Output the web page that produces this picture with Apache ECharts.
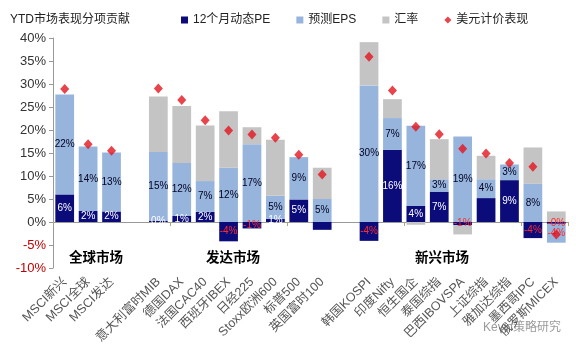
<!DOCTYPE html>
<html><head><meta charset="utf-8">
<script src="https://cdn.jsdelivr.net/npm/echarts@6/dist/echarts.min.js"></script>
<style>html,body{margin:0;padding:0;background:#fff}#c{width:576px;height:355px}</style>
</head><body><div id="c"></div>
<script>
const categories = ['MSCI新兴','MSCI全球','MSCI发达','','意大利富时MIB','德国DAX','法国CAC40','西班牙IBEX','日经225','Stoxx欧洲600','标普500','英国富时100','','韩国KOSPI','印度Nifty','恒生国企','泰国综指','巴西IBOVSPA','上证综指','雅加达综指','墨西哥IPC','俄罗斯MICEX'];
const pe  = [6.0, 2.4, 2.3, null, 0.3, 1.3, 2.2, -4.2, -1.4, 0.7, 4.9, -1.7, null, -4.1, 15.7, 3.5, 6.6, -0.7, 5.2, 9.1, -3.5, -0.4];
const eps = [21.7, 14.0, 12.8, null, 14.9, 11.5, 6.7, 11.8, 16.9, 5.0, 9.2, 5.0, null, 29.7, 6.9, 17.4, 2.7, 18.6, 4.1, 3.4, 8.3, -4.1];
const fx  = [0, 0, 0, null, 12.1, 12.4, 12.1, 12.3, 3.7, 12.2, 0, 6.8, null, 9.4, 4.1, -0.6, 8.7, -2.0, 5.1, 0, 7.9, 2.3];
const usd = [28.9, 16.9, 15.5, null, 29.0, 26.5, 22.1, 19.9, 19.0, 18.3, 14.6, 10.3, null, 35.9, 28.6, 20.7, 19.1, 15.9, 14.9, 12.8, 12.0, -2.7];
const yTicks = [-10, -5, 0, 5, 10, 15, 20, 25, 30, 35, 40];
const peLabelHidden = ['英国富时100', '上证综指'];
const groups = [
  {name: '全球市场', x: 96},
  {name: '发达市场', x: 233},
  {name: '新兴市场', x: 442}
];

const chart = echarts.init(document.getElementById('c'), null, {renderer: 'canvas'});
const fmt = v => (v == null ? '' : Number(v).toFixed(0) + '%');
const red = '#ff2a2a';

const peData = pe.map((v, i) => ({
  value: v,
  label: {
    show: v != null && peLabelHidden.indexOf(categories[i]) < 0,
    color: v < 0 ? red : '#ffffff'
  }
}));
const epsData = eps.map(v => ({
  value: v,
  label: {show: v != null, color: v < 0 ? red : '#000022'}
}));

chart.setOption({
  animation: false,
  title: {
    text: 'YTD市场表现分项贡献', left: 5, top: 9,
    textStyle: {fontSize: 12, fontWeight: 'normal', color: '#222', fontFamily: 'Liberation Sans, Noto Sans CJK SC'}
  },
  legend: {
    left: 176, top: 9, itemWidth: 7, itemHeight: 7, itemGap: 26,
    textStyle: {fontSize: 12, color: '#222', fontFamily: 'Liberation Sans, Noto Sans CJK SC'},
    data: [
      {name: '12个月动态PE', icon: 'rect'},
      {name: '预测EPS', icon: 'rect'},
      {name: '汇率', icon: 'rect'},
      {name: '美元计价表现', icon: 'diamond'}
    ]
  },
  grid: {left: 53, right: 8, top: 38, bottom: 87, outerBoundsMode: 'none', containLabel: false},
  xAxis: [
    {
      type: 'category', data: categories,
      axisLine: {onZero: true, lineStyle: {color: '#999'}},
      axisTick: {show: true, length: 4, lineStyle: {color: '#a8a878'}},
      axisLabel: {show: false}
    },
    {
      type: 'category', data: categories, position: 'bottom',
      axisLine: {show: false, onZero: false}, axisTick: {show: false},
      axisLabel: {
        interval: 0, rotate: 45, margin: 12, fontSize: 12.5, color: '#555',
        fontFamily: 'Liberation Sans, Noto Sans CJK SC'
      }
    }
  ],
  yAxis: {
    type: 'value', min: yTicks[0], max: yTicks[yTicks.length - 1], interval: 5,
    splitLine: {show: false},
    axisLine: {show: true, lineStyle: {color: '#999'}},
    axisTick: {show: true, length: 4, lineStyle: {color: '#999'}},
    axisLabel: {
      formatter: '{value}%', fontSize: 13, margin: 7,
      fontFamily: 'Liberation Sans',
      color: v => (Number(v) < 0 ? '#c00000' : '#333')
    }
  },
  series: [
    {
      name: '12个月动态PE', type: 'bar', stack: 'a', data: peData,
      barCategoryGap: '20%',
      itemStyle: {color: '#0b0b7a'},
      label: {show: true, position: 'inside', fontSize: 10, fontFamily: 'Liberation Sans', formatter: p => fmt(p.value)}
    },
    {
      name: '预测EPS', type: 'bar', stack: 'a', data: epsData,
      itemStyle: {color: '#97b5dc'},
      label: {show: true, position: 'inside', fontSize: 10, fontFamily: 'Liberation Sans', formatter: p => fmt(p.value)}
    },
    {
      name: '汇率', type: 'bar', stack: 'a', data: fx,
      itemStyle: {color: '#c4c4c4'}
    },
    {
      name: '美元计价表现', type: 'scatter', data: usd,
      symbol: 'diamond', symbolSize: [9, 10],
      itemStyle: {color: '#e3141e'}, z: 5
    }
  ]
});

const yg = chart.convertToPixel({yAxisIndex: 0}, -7.5);
chart.setOption({
  graphic: groups.map(g => ({
    type: 'text', x: g.x, y: yg,
    style: {
      text: g.name, align: 'center', verticalAlign: 'middle',
      fontSize: 13.5, fontWeight: 'bold', fill: '#000',
      fontFamily: 'Noto Sans CJK SC'
    }
  })).concat([{
    type: 'text', x: 522, y: 328,
    style: {
      text: 'Kevin策略研究', align: 'center', verticalAlign: 'middle',
      fontSize: 12, fill: 'rgba(120,120,120,0.75)', fontFamily: 'Liberation Sans, Noto Sans CJK SC'
    }
  }])
});
</script>
</body></html>
